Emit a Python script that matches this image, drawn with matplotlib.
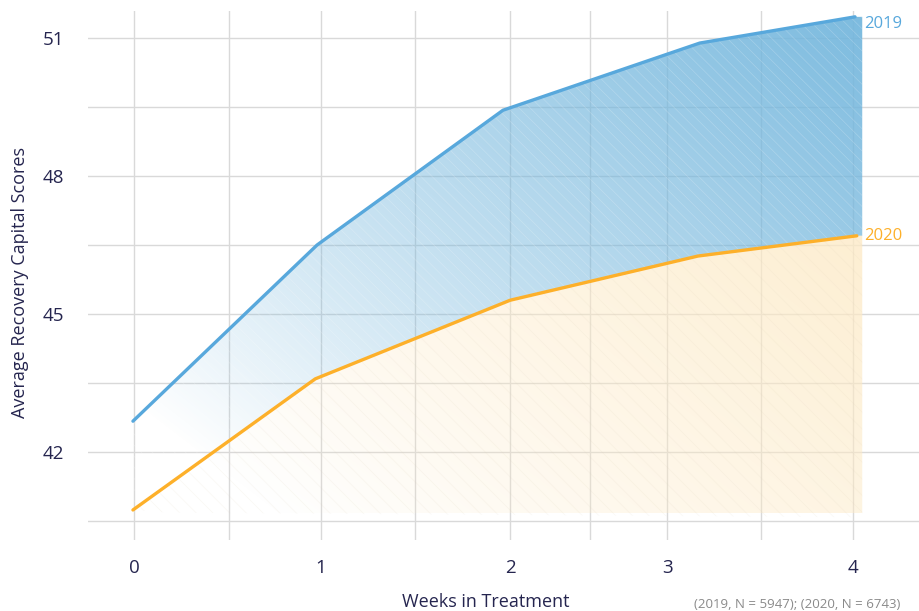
import numpy as np
import matplotlib
matplotlib.use("Agg")
import matplotlib.pyplot as plt
from matplotlib.patches import Polygon

plt.rcParams['font.family'] = ['Open Sans', 'DejaVu Sans']
plt.rcParams['hatch.linewidth'] = 0.5

# data
weeks_2019 = [0, 1.02, 2.05, 3.14, 4.0]
scores_2019 = [42.67, 46.50, 49.43, 50.89, 51.46]
weeks_2020 = [0, 1.01, 2.09, 3.13, 4.01]
scores_2020 = [40.74, 43.59, 45.30, 46.26, 46.70]

tick_pos = [0.006, 1.04, 2.09, 2.96, 3.99]
tick_labels = ['0', '1', '2', '3', '4']
minor_pos = [0.53, 1.56, 2.53, 3.48]
y_major = [42, 45, 48, 51]
y_minor = [40.5, 43.5, 46.5, 49.5]

BLUE = '#58a8dc'
ORANGE = '#fdb02a'
NAVY = '#25254f'
GRID = '#d9d9d9'

fig = plt.figure(figsize=(9.2, 6.11), dpi=100)
ax = fig.add_axes([88 / 920, 71 / 611, 832 / 920, 529 / 611])
ax.set_xlim(-0.249, 4.36)
ax.set_ylim(40.087, 51.587)

for s in ax.spines.values():
    s.set_visible(False)

ax.set_xticks(tick_pos)
ax.set_xticklabels(tick_labels)
ax.set_xticks(minor_pos, minor=True)
ax.set_yticks(y_major)
ax.set_yticks(y_minor, minor=True)
ax.tick_params(which='both', length=0)
ax.tick_params(axis='x', pad=14, labelsize=13.5, labelcolor=NAVY)
ax.tick_params(axis='y', pad=17, labelsize=13.5, labelcolor=NAVY)
ax.grid(True, which='both', color=GRID, linewidth=1)
ax.set_axisbelow(True)

x_edge = 4.04
bottom = 40.68


def gradient_fill(poly_xy, rgb, a0, a1, z):
    poly = Polygon(poly_xy, closed=True, facecolor='none', edgecolor='none')
    ax.add_patch(poly)
    n = 300
    u = np.linspace(0, 1, n)
    v = np.linspace(0, 1, n)
    U, V = np.meshgrid(u, v)
    t = np.clip((U * 0.62 + V * 0.55 - 0.12) / 1.05, 0, 1)
    img = np.zeros((n, n, 4))
    img[..., 0], img[..., 1], img[..., 2] = rgb
    img[..., 3] = a0 + (a1 - a0) * t ** 0.9
    im = ax.imshow(img, extent=[0, x_edge, bottom, 51.5], origin='lower',
                   aspect='auto', zorder=z, interpolation='bilinear')
    im.set_clip_path(poly)


# blue area between the two lines
top_x = list(weeks_2019) + [x_edge]
top_y = list(scores_2019) + [scores_2019[-1]]
low_x = list(weeks_2020) + [x_edge]
low_y = list(scores_2020) + [scores_2020[-1]]
blue_poly = list(zip(top_x, top_y)) + list(zip(low_x[::-1], low_y[::-1]))
gradient_fill(blue_poly, (0.46, 0.72, 0.87), 0.0, 0.95, 1)
ax.add_patch(Polygon(blue_poly, closed=True, facecolor='none',
                     edgecolor=(1, 1, 1, 0.22), hatch='\\\\\\', linewidth=0, zorder=1.5))

# orange area below 2020
orange_poly = list(zip(low_x, low_y)) + [(x_edge, bottom - 0.1), (0.2, bottom)]
gradient_fill(orange_poly, (0.995, 0.92, 0.78), 0.0, 1.0, 1.2)
ax.add_patch(Polygon(orange_poly, closed=True, facecolor='none',
                     edgecolor=(0.85, 0.8, 0.7, 0.15), hatch='\\\\', linewidth=0, zorder=1.5))

ax.plot(weeks_2019, scores_2019, color=BLUE, lw=2.4, zorder=3, solid_capstyle='round')
ax.plot(weeks_2020, scores_2020, color=ORANGE, lw=2.4, zorder=3, solid_capstyle='round')

ax.text(x_edge + 0.01, scores_2019[-1] - 0.15, '2019', color=BLUE, fontsize=12,
        va='center', ha='left')
ax.text(x_edge + 0.01, scores_2020[-1], '2020', color=ORANGE, fontsize=12,
        va='center', ha='left')

fig.text(486 / 920, 1 - 602 / 611, 'Weeks in Treatment', color=NAVY, fontsize=13,
         ha='center', va='center')
fig.text(20 / 920, 1 - 282 / 611, 'Average Recovery Capital Scores', color=NAVY,
         fontsize=13, ha='center', va='center', rotation=90)
fig.text(900 / 920, 1 - 604 / 611, '(2019, N = 5947); (2020, N = 6743)', color='#8a8a8a',
         fontsize=9.5, ha='right', va='center')

fig.savefig('out.png', dpi=100)
